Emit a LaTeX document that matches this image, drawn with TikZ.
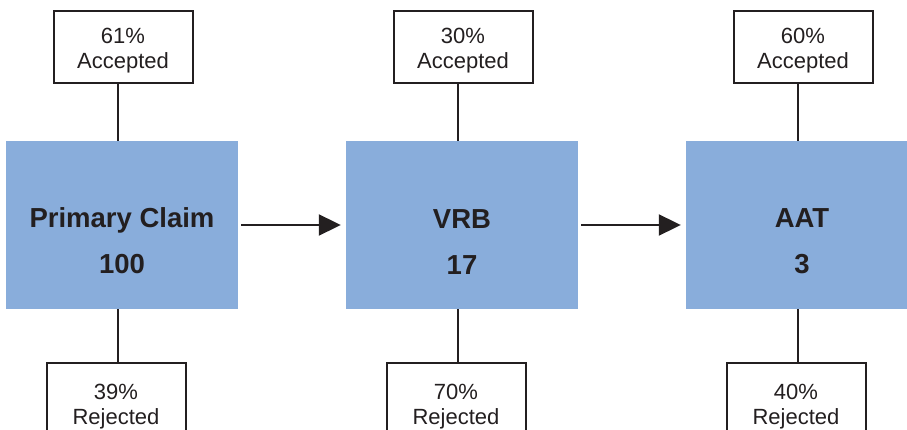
\documentclass[tikz,border=0pt]{standalone}
\usepackage{fontspec}
\setmainfont{Liberation Sans}
\usetikzlibrary{arrows.meta}
\definecolor{cStage}   {RGB}{137,173,219}
\definecolor{cInk}     {RGB}{35,31,32}
\definecolor{cBox}     {RGB}{255,255,255}
\def\Ytop{47}
\def\Ymid{225}
\def\Ybot{403}
\def\Rlift{52pt}
\def\Rsmall{22pt}
\tikzset{
  stagebox/.style={fill=cStage,minimum width=232pt,minimum height=168pt,
    inner sep=0pt,align=center,text=cInk,
    font=\fontsize{27.5pt}{46pt}\selectfont\bfseries},
  outbox/.style={draw=cInk,line width=2pt,fill=cBox,minimum width=139pt,
    minimum height=72pt,inner sep=0pt,align=center,text=cInk,
    font=\fontsize{22pt}{25pt}\selectfont},
  link/.style={draw=cInk,line width=2pt},
  flow/.style={link,-{Triangle[length=22pt,width=21pt]},
    shorten <=3pt,shorten >=5pt},
}
\newcommand{\stageBlock}[6]{%
  % caixa da etapa
  \node[stagebox] (st#1) at (#2,\Ymid) {\rule{0pt}{\Rlift}#3\\#4};
  % eixo das ligacoes verticais
  \coordinate (ln#1) at (#2-4,0);
  % aceites em cima, rejeitados em baixo
  \node[outbox] (acc#1) at (#2+1,\Ytop) {\rule{0pt}{\Rsmall}#5\\Accepted};
  \node[outbox,minimum height=80pt] (rej#1) at (#2-6,\Ybot)
    {\rule{0pt}{\Rsmall}#6\\Rejected};
  \draw[link] (ln#1 |- acc#1.south) -- (ln#1 |- st#1.north);
  \draw[link] (ln#1 |- st#1.south) -- (ln#1 |- rej#1.north);
}

\begin{document}
\begin{tikzpicture}[x=1pt,y=-1pt]

% moldura
\useasboundingbox (0,0) rectangle (907,430);
\clip (0,0) rectangle (907,430);

% =================== ETAPAS ===================
\stageBlock{1}{122}{Primary Claim}{100}{61\%}{39\%}
\stageBlock{2}{462}{VRB}{17}{30\%}{70\%}
\stageBlock{3}{802}{AAT}{3}{60\%}{40\%}

% =================== FLUXO ===================
\draw[flow] (st1.east) -- (st2.west);
\draw[flow] (st2.east) -- (st3.west);

\end{tikzpicture}
\end{document}
